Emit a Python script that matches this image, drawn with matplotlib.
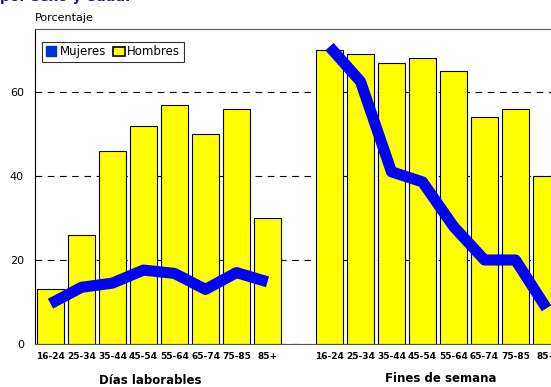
import numpy as np
import matplotlib.pyplot as plt
from matplotlib.lines import Line2D
from matplotlib.patches import Patch

edades = ['16-24', '25-34', '35-44', '45-54', '55-64', '65-74', '75-85', '85+']
hombres_lab = [13, 26, 46, 52, 57, 50, 56, 30]
hombres_fin = [70, 69, 67, 68, 65, 54, 56, 40]
mujeres_lab = [9.6, 13.5, 14.5, 17.6, 16.8, 13.0, 17.0, 14.8]
mujeres_fin = [70.8, 62.5, 41.0, 38.6, 28.0, 20.0, 20.0, 8.5]
grupos = ['Días laborables', 'Fines de semana']

x_lab = np.arange(len(edades))
x_fin = x_lab + len(edades) + 1

fig = plt.figure(figsize=(5.51, 3.87), dpi=100)
ax = fig.add_axes([35/551, 43/387, 527/551, 315/387])

ax.bar(x_lab, hombres_lab, width=0.84, color='#ffff00', edgecolor='black', linewidth=0.8, zorder=2)
ax.bar(x_fin, hombres_fin, width=0.84, color='#ffff00', edgecolor='black', linewidth=0.8, zorder=2)
ax.plot(x_lab, mujeres_lab, color='#0000ff', lw=8, zorder=3, solid_capstyle='butt')
ax.plot(x_fin, mujeres_fin, color='#0000ff', lw=8, zorder=3, solid_capstyle='butt')

handles = [Line2D([], [], marker='s', color='#0033cc', ls='none', ms=7),
           Patch(facecolor='#ffff00', edgecolor='black', linewidth=1.2)]

ax.set_xlim(-0.5, 16.5)
ax.set_ylim(0, 75)
ax.set_yticks([0, 20, 40, 60])
ax.yaxis.grid(True, linestyle=(0, (6, 5)), color='black', lw=0.8, zorder=0)
ax.set_axisbelow(True)
ax.tick_params(axis='y', length=0, labelsize=8, pad=8)
ax.set_xticks(np.concatenate([x_lab, x_fin]))
ax.set_xticklabels(edades + edades, fontsize=6.5, fontweight='bold')
ax.tick_params(axis='x', length=0, pad=6)
ax.spines['right'].set_visible(False)
ax.spines['top'].set_color('#555555')
ax.spines['bottom'].set_color('#555555')

leg = ax.legend(handles, ['Mujeres', 'Hombres'], loc='upper left', bbox_to_anchor=(0.002, 0.978), ncol=2,
                fontsize=8.5, frameon=True, fancybox=False, edgecolor='black',
                handlelength=1.0, handleheight=0.8, handletextpad=0.2, columnspacing=0.6,
                borderpad=0.3)
leg.get_frame().set_linewidth(0.8)

fig.text(35/551, 1 - 18/387, 'Porcentaje', fontsize=8, va='center', ha='left')
fig.text(150/551, 1 - 380/387, grupos[0], fontsize=8.5, fontweight='bold', ha='center', va='center')
fig.text(441/551, 1 - 378/387, grupos[1], fontsize=8.5, fontweight='bold', ha='center', va='center')
fig.text(0.0, 1 - 1.5/387, 'por sexo y edad.', fontsize=10, fontweight='bold', color='#1a1a80',
         ha='left', va='baseline')

fig.savefig('out.png', dpi=100)
